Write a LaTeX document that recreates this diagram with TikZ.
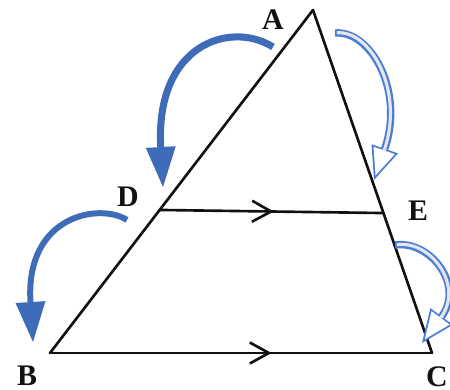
\documentclass[tikz,border=0pt]{standalone}
\usepackage{fontspec}
\setmainfont{Liberation Serif}
\usepackage{xcolor}
\usepackage{tikz}
\usetikzlibrary{arrows.meta,positioning,calc,decorations.markings}
\definecolor{ink}{HTML}{111111}
\definecolor{deepblue}{HTML}{3E6CB9}
\definecolor{lineblue}{HTML}{4A7DD8}
\definecolor{softgrey}{HTML}{E4E6EA}
\tikzset{
    every picture/.style={line cap=round,line join=round},
    side/.style={draw=ink,line width=1.5pt},
    ptlabel/.style={font=\fontsize{17}{20}\selectfont\bfseries,text=ink,inner sep=0pt},
    parmark/.style={postaction={decorate},decoration={markings,
      mark=at position #1 with {\arrow{Straight Barb[length=3.8mm,width=4.2mm]}}}},
    solidturn/.style={draw=deepblue,line width=#1,line cap=butt,
      -{Triangle[length=8mm,width=6mm,line width=0pt]}},
    hollowout/.style={draw=lineblue,line width=4.2pt,line cap=butt,
      -{Triangle[length=6.6mm,width=5.6mm,line width=0pt]}},
    hollowin/.style={draw=softgrey,line width=1.8pt,line cap=butt,
      shorten <=1.1pt,shorten >=0.95mm,
      -{Triangle[length=5.3mm,width=4.5mm,line width=0pt,fill=white,color=white]}}
}
\begin{document}
\begin{tikzpicture}
    \useasboundingbox (0,0) rectangle (9,7.8);
    % triangle and the parallel cut
    \coordinate (A) at (6.26,7.6);
    \coordinate (B) at (1.0,0.74);
    \coordinate (C) at (8.64,0.74);
    \coordinate (D) at ($(A)!0.583!(B)$);
    \coordinate (E) at ($(A)!0.592!(C)$);
    \draw[side] (A)--(B);
    \draw[side] (A)--(C);
    \draw[side,parmark=0.58] (B)--(C);
    \draw[side,parmark=0.51] (D)--(E);
    \node[ptlabel] (labA) at (5.46,7.41) {A};
    \node[ptlabel] (labB) at (0.54,0.28) {B};
    \node[ptlabel] (labC) at (8.74,0.27) {C};
    \node[ptlabel] (labD) at (2.56,3.86) {D};
    \node[ptlabel] (labE) at (8.36,3.58) {E};
    % turning arrows, left side
    \coordinate (ad1) at (5.46,6.86);
    \coordinate (ad2) at (3.26,4.06);
    \coordinate (db1) at (2.54,3.4);
    \coordinate (db2) at (0.66,0.96);
    \draw[solidturn=4pt] (ad1) .. controls (4.6,7.4) and (3.1,6.9) .. (ad2);
    \draw[solidturn=3.4pt] (db1) .. controls (2.0,3.75) and (0.5,3.5) .. (db2);
    % turning arrows, right side
    \coordinate (ae1) at (6.7,7.14);
    \coordinate (ae2) at (7.48,4.2);
    \coordinate (ec1) at (7.9,2.9);
    \coordinate (ec2) at (8.44,0.94);
    \draw[hollowout] (ae1) .. controls (7.4,7.2) and (8.1,6.0) .. (ae2);
    \draw[hollowin] (ae1) .. controls (7.4,7.2) and (8.1,6.0) .. (ae2);
    \draw[hollowout] (ec1) .. controls (8.6,3.0) and (9.3,2.1) .. (ec2);
    \draw[hollowin] (ec1) .. controls (8.6,3.0) and (9.3,2.1) .. (ec2);
\end{tikzpicture}
\end{document}
